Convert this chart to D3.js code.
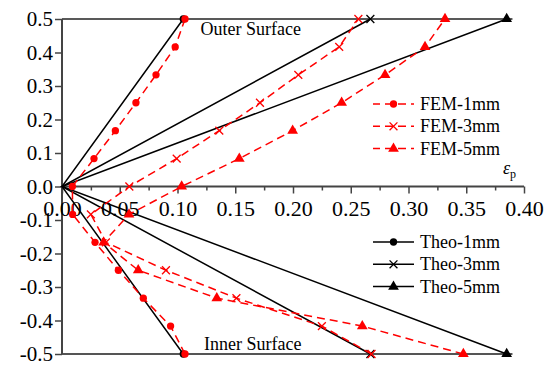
<!DOCTYPE html>
<html><head><meta charset="utf-8">
<script src="https://cdn.jsdelivr.net/npm/d3@7"></script>
<style>body{margin:0;background:#fff}svg{display:block}</style>
</head><body><svg id="c" width="552" height="367"></svg>
<script>
// ---- data ----
const yLevels = [-0.5, -0.4167, -0.3333, -0.25, -0.1667, -0.0833, 0, 0.0833, 0.1667, 0.25, 0.3333, 0.4167, 0.5];
const fem1 = [0.1065, 0.094, 0.0704, 0.0488, 0.0286, 0.0092, 0.0090, 0.0277, 0.0462, 0.064, 0.0814, 0.098, 0.1065];
const fem3 = [0.268, 0.225, 0.151, 0.090, 0.038, 0.025, 0.0583, 0.0993, 0.1362, 0.1714, 0.2046, 0.240, 0.2566];
const fem5 = [0.3475, 0.26, 0.134, 0.066, 0.036, 0.058, 0.1036, 0.1535, 0.1997, 0.2421, 0.2797, 0.3143, 0.3316];
const theoY = [-0.5, 0, 0.5];
const theo1 = [0.105, 0, 0.105];
const theo3 = [0.267, 0, 0.267];
const theo5 = [0.385, 0, 0.385];
const xTicks = [0, 0.05, 0.10, 0.15, 0.20, 0.25, 0.30, 0.35, 0.40];
const xMinor = [0.025, 0.075, 0.125, 0.175, 0.225, 0.275, 0.325, 0.375];
const yTicks = [-0.5, -0.4, -0.3, -0.2, -0.1, 0, 0.1, 0.2, 0.3, 0.4, 0.5];
const femNames = ["FEM-1mm", "FEM-3mm", "FEM-5mm"];
const theoNames = ["Theo-1mm", "Theo-3mm", "Theo-5mm"];
const frameMaxX = 0.39;

const FONT = "'Liberation Serif', 'DejaVu Serif', 'Times New Roman', serif";
const svg = d3.select("#c").style("font-family", FONT);
const x = d3.scaleLinear().domain([0, 0.4]).range([62, 524]);
const y = d3.scaleLinear().domain([-0.5, 0.5]).range([354, 19]);
const RED = "#ff0000";

// frame lines top & bottom
svg.append("line").attr("x1", x(0)).attr("x2", x(frameMaxX)).attr("y1", y(0.5)).attr("y2", y(0.5))
  .attr("stroke", "#222").attr("stroke-width", 1.3);
svg.append("line").attr("x1", x(0)).attr("x2", x(frameMaxX)).attr("y1", y(-0.5)).attr("y2", y(-0.5))
  .attr("stroke", "#555").attr("stroke-width", 2);

// axes
const fmtY = d => d3.format(".1f")(d).replace("\u2212", "-");
const yAx = svg.append("g").attr("transform", `translate(${x(0)},0)`)
  .call(d3.axisLeft(y).tickValues(yTicks).tickFormat(fmtY).tickSize(7).tickPadding(2));
yAx.attr("font-family", null).attr("font-size", null);
yAx.selectAll("text").style("font-size", "21px").style("font-family", FONT).attr("fill", "#000");
const xAx = svg.append("g").attr("transform", `translate(0,${y(0)})`)
  .call(d3.axisBottom(x).tickValues(xTicks).tickFormat(d3.format(".2f")).tickSize(7));
xAx.attr("font-family", null).attr("font-size", null);
xAx.selectAll("text").style("font-size", "22px").style("font-family", FONT).attr("fill", "#000").attr("dy", 0).attr("y", 29.5);
const xMin = svg.append("g").attr("transform", `translate(0,${y(0)})`)
  .call(d3.axisBottom(x).tickValues(xMinor).tickFormat("").tickSize(4));
[yAx, xAx, xMin].forEach(g => {
  g.select(".domain").attr("stroke", "#444").attr("stroke-width", 2);
  g.selectAll(".tick line").attr("stroke", "#444").attr("stroke-width", 1.5);
});
xMin.select(".domain").remove();
yAx.select(".domain").attr("d", `M0,${y(0.5)}V${y(-0.5)}`);
xAx.select(".domain").attr("d", `M${x(0)},0H${x(0.4)}`);

const line = d3.line().x(d => x(d[0])).y(d => y(d[1]));
const sym = {
  circle: d3.symbol(d3.symbolCircle, 42),
  times: d3.symbol(d3.symbolTimes, 42),
  tri: d3.symbol(d3.symbolTriangle, 50)
};
function marker(g, type, cx, cy, color) {
  const p = g.append("path").attr("d", sym[type]()).attr("transform", `translate(${cx},${cy})`);
  if (type === "times") p.attr("fill", "none").attr("stroke", color).attr("stroke-width", 1.3);
  else p.attr("fill", color);
}

// theoretical lines
const theoSets = [[theo1, "circle"], [theo3, "times"], [theo5, "tri"]];
theoSets.forEach(([xs, m]) => {
  const pts = xs.map((v, i) => [v, theoY[i]]);
  svg.append("path").attr("d", line(pts)).attr("fill", "none").attr("stroke", "#000").attr("stroke-width", 1.5);
  pts.filter(p => p[1] !== 0).forEach(p => marker(svg, m, x(p[0]), y(p[1]), "#000"));
});

// FEM lines
const femSets = [[fem1, "circle"], [fem3, "times"], [fem5, "tri"]];
femSets.forEach(([xs, m]) => {
  const pts = xs.map((v, i) => [v, yLevels[i]]);
  svg.append("path").attr("d", line(pts)).attr("fill", "none").attr("stroke", RED)
    .attr("stroke-width", 1.5).attr("stroke-dasharray", "8,5");
  pts.forEach(p => marker(svg, m, x(p[0]), y(p[1]), RED));
});

// legends
function legend(names, types, color, dashed, y0) {
  names.forEach((n, i) => {
    const yy = y0 + i * 22.3;
    svg.append("line").attr("x1", 373).attr("x2", 414).attr("y1", yy).attr("y2", yy)
      .attr("stroke", color).attr("stroke-width", 1.5).attr("stroke-dasharray", dashed ? "8,5" : null)
      .attr("stroke-dashoffset", dashed ? 1 : null);
    marker(svg, types[i], 393.5, yy, color);
    svg.append("text").attr("x", 420).attr("y", yy + 6).style("font-size", "18px").text(n);
  });
}
legend(femNames, ["circle", "times", "tri"], RED, true, 104);
legend(theoNames, ["circle", "times", "tri"], "#000", false, 242);

// annotations
svg.append("text").attr("x", 200.5).attr("y", 35).style("font-size", "18px").text("Outer Surface");
svg.append("text").attr("x", 204).attr("y", 350).style("font-size", "18px").text("Inner Surface");
const lab = svg.append("text").attr("x", 503).attr("y", 174).style("font-size", "18px");
lab.append("tspan").attr("font-style", "italic").text("\u03b5");
lab.append("tspan").style("font-size", "12px").attr("dy", 4).text("p");
</script></body></html>
